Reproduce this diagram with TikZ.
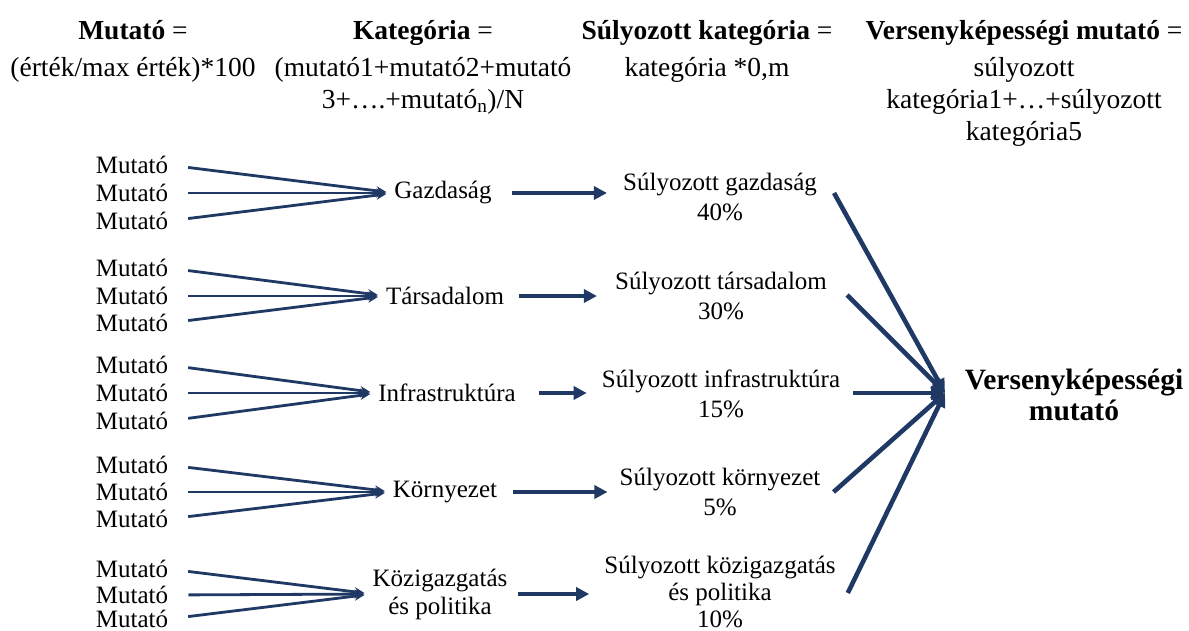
\documentclass[tikz,border=0pt]{standalone}
\usepackage{fontspec}
\setmainfont{Liberation Serif}
\usetikzlibrary{arrows.meta}
\definecolor{navy}{RGB}{31,56,100}
\begin{document}
\begin{tikzpicture}[x=1pt,y=-1pt,
  hdr/.style={align=center,anchor=north,inner sep=0pt,font=\fontsize{27.5}{32}\selectfont},
  txt/.style={align=center,inner sep=0pt,font=\fontsize{25}{30}\selectfont},
  cat/.style={txt,font=\fontsize{25}{28}\selectfont},
  final/.style={align=center,inner sep=0pt,font=\fontsize{29.5}{31}\selectfont\bfseries},
  fan/.style={draw=navy,line width=2.8pt,-{Stealth[length=10pt,width=9pt]},shorten <=20pt,shorten >=8pt},
  thick/.style={draw=navy,line width=4.6pt,-{Triangle[length=13pt,width=13pt]}},
  tohub/.style={draw=navy,line width=4.6pt,-{Triangle[length=14pt,width=13pt]}}]
\useasboundingbox (0,0) rectangle (1189,631);

% column headings
\node[hdr] (h1) at (133,20) {{\bfseries Mutató} =\\[5pt](érték/max érték)*100};
\node[hdr] (h2) at (423,20) {{\bfseries Kategória} =\\[5pt](mutató1+mutató2+mutató\\3+….+mutató\textsubscript{n})/N};
\node[hdr] (h3) at (707,20) {{\bfseries Súlyozott kategória} =\\[5pt]kategória *0,m};
\node[hdr] (h4) at (1024,20) {{\bfseries Versenyképességi mutató} =\\[5pt]súlyozott\\kategória1+…+súlyozott\\kategória5};

% indicators
\foreach \g/\ya/\yb/\yc in {1/165/193/221, 2/268/296/323, 3/365/393/421, 4/465/492/519, 5/569/595/619}{
  \node[txt] (m\g a) at (132,\ya) {Mutató};
  \node[txt] (m\g b) at (132,\yb) {Mutató};
  \node[txt] (m\g c) at (132,\yc) {Mutató};
}

% categories
\node[cat] (c1) at (443,193) {Gazdaság};
\node[cat] (c2) at (445,296) {Társadalom};
\node[cat] (c3) at (447,393) {Infrastruktúra};
\node[cat] (c4) at (445,492) {Környezet};
\node[cat] (c5) at (440,594) {Közigazgatás\\és politika};

% weighted categories
\node[txt] (w1) at (720,197) {Súlyozott gazdaság\\40\%};
\node[txt] (w2) at (721,296) {Súlyozott társadalom\\30\%};
\node[txt] (w3) at (721,394) {Súlyozott infrastruktúra\\15\%};
\node[txt] (w4) at (720,492) {Súlyozott környezet\\5\%};
\node[txt,font=\fontsize{25}{27}\selectfont] (w5) at (720,592) {Súlyozott közigazgatás\\és politika\\10\%};

% composite index
\node[final] (vk) at (1074,395) {Versenyképességi\\mutató};
\coordinate (hub) at (945,393);

% indicators -> categories
\foreach \g in {1,...,5}{
  \draw[fan] (m\g a.east) -- (c\g.west);
  \draw[fan] (m\g b.east) -- (c\g.west);
  \draw[fan] (m\g c.east) -- (c\g.west);
}

% categories -> weighted categories
\draw[thick,shorten <=20pt,shorten >=16pt] (c1.east) -- (c1.east -| w1.west);
\draw[thick,shorten <=15pt,shorten >=18pt] (c2.east) -- (c2.east -| w2.west);
\draw[thick,shorten <=23pt,shorten >=15pt] (c3.east) -- (c3.east -| w3.west);
\draw[thick,shorten <=16pt,shorten >=12pt] (c4.east) -- (c4.east -| w4.west);
\draw[thick,shorten <=10pt,shorten >=15pt] (c5.east) -- (c5.east -| w5.west);

% weighted categories -> composite index
\draw[tohub] ([xshift=17pt,yshift=4pt]w1.east) -- (hub);
\draw[tohub] ([xshift=20pt,yshift=1pt]w2.east) -- (hub);
\draw[tohub] ([xshift=13pt,yshift=1pt]w3.east) -- (hub);
\draw[tohub] ([xshift=13pt]w4.east) -- (hub);
\draw[tohub] ([xshift=12pt,yshift=-1pt]w5.east) -- (hub);
\end{tikzpicture}
\end{document}
